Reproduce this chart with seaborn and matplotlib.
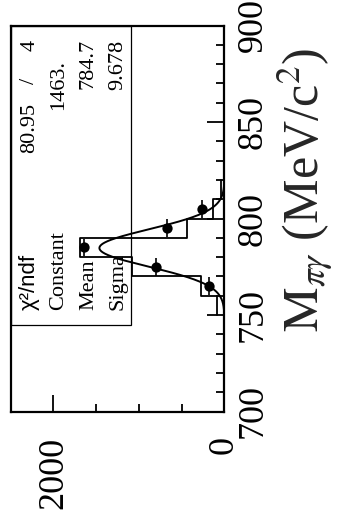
import numpy as np
import pandas as pd
import matplotlib
matplotlib.use("Agg")
import matplotlib.pyplot as plt
from matplotlib.ticker import MultipleLocator, FixedLocator
from matplotlib.patches import Rectangle
import seaborn as sns

# ---------------- data ----------------
bin_edges = [750, 760, 770, 780, 790, 800, 810, 820]
hist_counts = [87, 270, 1081, 1694, 442, 136, 38]
point_mass = [765, 775, 785, 795, 805]
point_counts = [182, 800, 1648, 678, 259]
point_mass_err = [4.6, 4.6, 4.6, 4.6, 4.6]
stat_labels = ["χ²/ndf", "Constant", "Mean", "Sigma"]
fit_chi2 = "80.95"
fit_ndf = "4"
fit_constant = 1463.0
fit_mean = 784.7
fit_sigma = 9.678
fit_range = [750, 820]
mass_ticks = [700, 750, 800, 850, 900]
count_ticks = [0, 2000]
x_title = r"$\mathrm{M}_{\pi\gamma}$ (MeV/c$^{2}$)"

# ---------------- style ----------------
sns.set_theme(style="white")
plt.rcParams["font.family"] = ["Liberation Serif", "DejaVu Serif"]
plt.rcParams["mathtext.fontset"] = "stix"

W, H = 344, 525
fig = plt.figure(figsize=(W / 100, H / 100), dpi=100)


def fx(x):
    return x / W


def fy(y):
    return 1 - y / H


ax = fig.add_axes([fx(11), fy(411.5), (224.5 - 11) / W, 386 / H])
ax.set_facecolor("white")

# histogram
centers = [(a + b) / 2 for a, b in zip(bin_edges[:-1], bin_edges[1:])]
df_h = pd.DataFrame({"mass": centers, "count": hist_counts})
sns.histplot(data=df_h, y="mass", weights="count", bins=bin_edges,
             element="step", fill=False, color="black", linewidth=1.3, ax=ax)

# fit curve
m = np.linspace(fit_range[0], fit_range[1], 400)
c = fit_constant * np.exp(-0.5 * ((m - fit_mean) / fit_sigma) ** 2)
sns.lineplot(x=c, y=m, orient="y", estimator=None, color="black",
             linewidth=1.4, ax=ax)

# data points
ax.errorbar(point_counts, point_mass, yerr=point_mass_err, fmt="none",
            ecolor="black", elinewidth=1.2, capsize=0)
sns.scatterplot(x=point_counts, y=point_mass, color="black", s=55,
                edgecolor="black", linewidth=0, ax=ax, zorder=5)

ax.set_xlim(2497, 0)
ax.set_ylim(700, 900)
ax.set_xlabel("")
ax.set_ylabel("")

for s in ax.spines.values():
    s.set_color("black")
    s.set_linewidth(1.6)

# mass axis (right)
ax.yaxis.tick_right()
ax.yaxis.set_major_locator(FixedLocator(mass_ticks))
ax.yaxis.set_minor_locator(MultipleLocator(10))
ax.tick_params(axis="y", which="major", direction="in", length=12, width=1.3,
               labelsize=26, labelrotation=90, pad=9, colors="black",
               left=False, right=True)
ax.tick_params(axis="y", which="minor", direction="in", length=6, width=1.3,
               left=False, right=True, colors="black")
for t in ax.get_yticklabels():
    t.set_va("center")

# count axis (bottom)
ax.xaxis.set_major_locator(FixedLocator(count_ticks))
ax.xaxis.set_minor_locator(MultipleLocator(500))
ax.tick_params(axis="x", which="major", direction="in", length=12, width=1.3,
               labelsize=26, labelrotation=90, pad=18, colors="black",
               bottom=True, top=False)
ax.tick_params(axis="x", which="minor", direction="in", length=6, width=1.3,
               bottom=True, top=False, colors="black")
ax.set_xticklabels([str(v) for v in count_ticks])

# axis title
ax.yaxis.set_label_position("right")
ax.set_ylabel(x_title, fontsize=36, rotation=90)
ax.yaxis.label.set_rotation_mode("anchor")
ax.yaxis.label.set_horizontalalignment("left")
ax.yaxis.label.set_verticalalignment("baseline")
ax.yaxis.set_label_coords((318 - 11) / 213.5, (411.5 - 332) / 386)

# stats box
box_right = (131 - 11) / 213.5
box_bottom = (411.5 - 325) / 386
ax.add_patch(Rectangle((0, box_bottom), box_right, 1 - box_bottom,
                       transform=ax.transAxes, fill=False, edgecolor="black",
                       linewidth=0.9, zorder=6, clip_on=False))

rows_x = [34.5, 63.5, 93, 122.5]
fs = 16
kw = dict(rotation=90, rotation_mode="anchor", va="baseline", fontsize=fs,
          color="black")
for lab, bx in zip(stat_labels, rows_x):
    fam = ["Liberation Sans", "DejaVu Sans"] if lab.startswith("χ") else ["Liberation Serif", "DejaVu Serif"]
    fig.text(fx(bx), fy(310), lab, ha="left", family=fam, **kw)

fig.text(fx(rows_x[0]), fy(40), fit_ndf, ha="right", **kw)
fig.text(fx(rows_x[0]), fy(81), "/", ha="center", **kw)
fig.text(fx(rows_x[0]), fy(103), fit_chi2, ha="right", **kw)
fig.text(fx(rows_x[1]), fy(60), f"{fit_constant:.0f}.", ha="right", **kw)
fig.text(fx(rows_x[2]), fy(39), f"{fit_mean:.1f}", ha="right", **kw)
fig.text(fx(rows_x[3]), fy(40), f"{fit_sigma:.3f}", ha="right", **kw)

fig.savefig("out.png", dpi=100, facecolor="white")
